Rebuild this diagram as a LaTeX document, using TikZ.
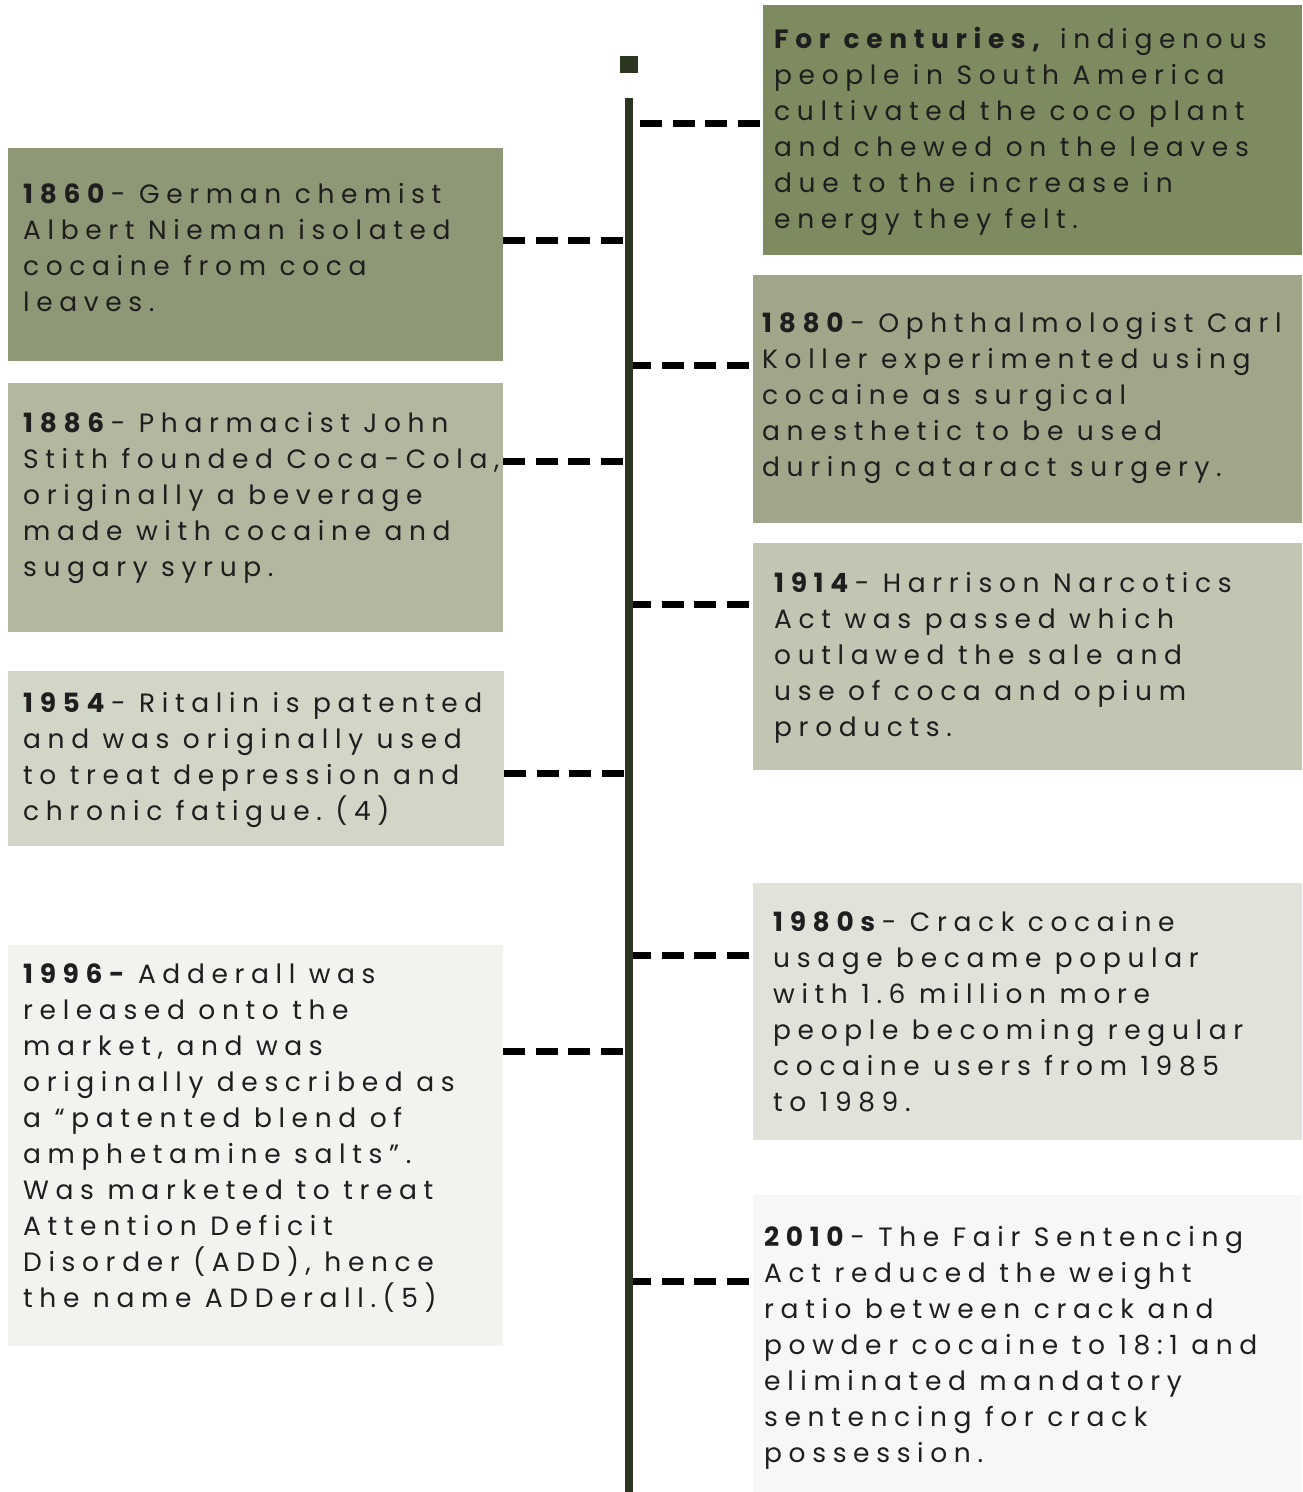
\documentclass[tikz,border=0pt]{standalone}
\usepackage{fontspec}
\setmainfont{Poppins}[LetterSpace=25]
\usetikzlibrary{calc}

\definecolor{axisGreen}{HTML}{2B3520}
\definecolor{boxCent}{HTML}{7E8A5F}
\definecolor{boxA}{HTML}{8F9876}
\definecolor{boxB}{HTML}{A1A68A}
\definecolor{boxC}{HTML}{B3B79F}
\definecolor{boxD}{HTML}{C1C5B1}
\definecolor{boxE}{HTML}{D2D6C6}
\definecolor{boxF}{HTML}{E1E2DA}
\definecolor{boxG}{HTML}{F2F2EF}
\definecolor{boxH}{HTML}{F7F7F5}
\definecolor{ink}{HTML}{1E1E1E}

\tikzset{
  box/.style={fill=#1, draw=none, inner sep=0pt, anchor=north west},
  txt/.style={anchor=base west, inner sep=0pt, text width=600pt, align=left,
    text=ink, font=\fontsize{26.5}{36}\selectfont,
    execute at begin node={\spaceskip=13.5pt\xspaceskip=13.5pt\relax}},
  link/.style={line width=7pt, dash pattern=on 22pt off 10.5pt}
}

\begin{document}
\begin{tikzpicture}[x=1pt,y=-1pt]
        \useasboundingbox (0,0) rectangle (1302,1492);

        \node[box=boxCent, minimum width=539pt, minimum height=250pt] (bCent) at (763,5) {};
        \node[box=boxA, minimum width=495pt, minimum height=213pt] (b1860) at (8,148) {};
        \node[box=boxB, minimum width=549pt, minimum height=248pt] (b1880) at (753,275) {};
        \node[box=boxC, minimum width=495pt, minimum height=249pt] (b1886) at (8,383) {};
        \node[box=boxD, minimum width=549pt, minimum height=227pt] (b1914) at (753,543) {};
        \node[box=boxE, minimum width=496pt, minimum height=175pt] (b1954) at (8,671) {};
        \node[box=boxF, minimum width=549pt, minimum height=257pt] (b1980) at (753,883) {};
        \node[box=boxG, minimum width=495pt, minimum height=401pt] (b1996) at (8,945) {};
        \node[box=boxH, minimum width=549pt, minimum height=297pt] (b2010) at (753,1195) {};

        \node[txt] (xCent) at (774,48) {\textbf{For centuries,} indigenous\\ people in South America\\ cultivated the coco plant\\ and chewed on the leaves\\ due to the increase in\\ energy they felt.};
        \node[txt] (x1860) at (23,203) {\textbf{1860}- German chemist\\ Albert Nieman isolated\\ cocaine from coca\\ leaves.};
        \node[txt] (x1880) at (762,332) {\textbf{1880}- Ophthalmologist Carl\\ Koller experimented using\\ cocaine as surgical\\ anesthetic to be used\\ during cataract surgery.};
        \node[txt] (x1886) at (23,432) {\textbf{1886}- Pharmacist John\\ Stith founded Coca-Cola,\\ originally a beverage\\ made with cocaine and\\ sugary syrup.};
        \node[txt] (x1914) at (774,592) {\textbf{1914}- Harrison Narcotics\\ Act was passed which\\ outlawed the sale and\\ use of coca and opium\\ products.};
        \node[txt] (x1954) at (23,712) {\textbf{1954}- Ritalin is patented\\ and was originally used\\ to treat depression and\\ chronic fatigue. (4)};
        \node[txt] (x1980) at (773,931) {\textbf{1980s}- Crack cocaine\\ usage became popular\\ with 1.6 million more\\ people becoming regular\\ cocaine users from 1985\\ to 1989.};
        \node[txt] (x1996) at (23,983) {\textbf{1996-} Adderall was\\ released onto the\\ market, and was\\ originally described as\\ a “patented blend of\\ amphetamine salts”.\\ Was marketed to treat\\ Attention Deficit\\ Disorder (ADD), hence\\ the name ADDerall.(5)};
        \node[txt] (x2010) at (764,1246) {\textbf{2010}- The Fair Sentencing\\ Act reduced the weight\\ ratio between crack and\\ powder cocaine to 18:1 and\\ eliminated mandatory\\ sentencing for crack\\ possession.};

        \coordinate (tCent) at (640,123);
        \coordinate (t1860) at (629,240);
        \coordinate (t1880) at (629,365);
        \coordinate (t1886) at (629,461);
        \coordinate (t1914) at (629,604);
        \coordinate (t1954) at (629,773);
        \coordinate (t1980) at (629,955);
        \coordinate (t1996) at (629,1051);
        \coordinate (t2010) at (629,1281);

        \draw[link] (tCent) -- (bCent.west |- tCent);
        \draw[link] (b1860.east |- t1860) -- (t1860);
        \draw[link] (t1880) -- (b1880.west |- t1880);
        \draw[link] (b1886.east |- t1886) -- (t1886);
        \draw[link] (t1914) -- (b1914.west |- t1914);
        \draw[link] (b1954.east |- t1954) -- (t1954);
        \draw[link] (t1980) -- (b1980.west |- t1980);
        \draw[link] (b1996.east |- t1996) -- (t1996);
        \draw[link] (t2010) -- (b2010.west |- t2010);

        \coordinate (axisTop) at (629,98);
        \coordinate (axisEnd) at (629,1492);
        \draw[axisGreen, line width=8pt] (axisTop) -- (axisEnd);
        \node[fill=axisGreen, minimum width=18pt, minimum height=17pt, inner sep=0pt] (mark) at (629,64) {};
\end{tikzpicture}
\end{document}
